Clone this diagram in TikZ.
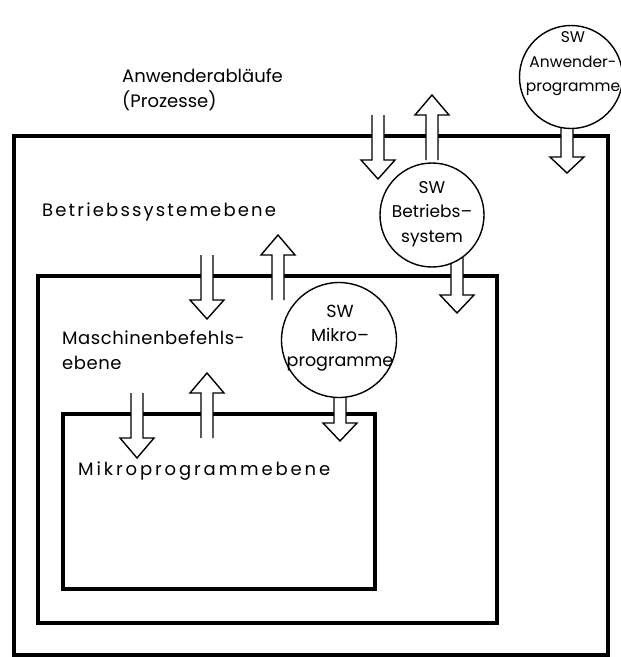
\documentclass[tikz,border=0pt]{standalone}
\usepackage{fontspec}
\setmainfont{Poppins}
\usepackage{tikz}
\usetikzlibrary{calc}

\begin{document}
\begin{tikzpicture}[x=1pt,y=-1pt,
    ebene/.style={draw,line width=3.2pt},
    blockpfeil/.style={draw,fill=white,line width=1.4pt,line join=miter},
    swkreis/.style={circle,draw,fill=white,line width=1.4pt,inner sep=0pt},
    swtext/.style={align=center,inner sep=0pt,font=\fontsize{#1}{24.5}\selectfont},
    swtext/.default=17,
    beschriftung/.style={anchor=west,align=left,inner sep=0pt,
      font=\fontsize{18}{25}\selectfont\addfontfeature{LetterSpace=#1}},
    beschriftung/.default=0]
    \useasboundingbox (0,0) rectangle (621,657);

    % Masse der Blockpfeile (halbe Breiten)
    \newcommand{\schaft}{6}
    \newcommand{\spitze}{17}

    % Pfeil nach unten: Anfang oben, Schaftlaenge, Spitzenlaenge
    \newcommand{\pfeilRunter}[3]{%
      \path[blockpfeil] (#1) ++(-\schaft,0) -- ++(0,#2) -- ++(\schaft-\spitze,0)
        -- ++(\spitze,#3) -- ++(\spitze,-#3) -- ++(\schaft-\spitze,0) -- ++(0,-#2);
    }
    % Pfeil nach oben: Anfang unten, Schaftlaenge, Spitzenlaenge
    \newcommand{\pfeilHoch}[3]{%
      \path[blockpfeil] (#1) ++(-\schaft,0) -- ++(0,-#2) -- ++(\schaft-\spitze,0)
        -- ++(\spitze,-#3) -- ++(\spitze,#3) -- ++(\schaft-\spitze,0) -- ++(0,#2);
    }

    % Die drei Ebenen
    \draw[ebene] (14,136) rectangle (608,655);
    \draw[ebene] (38,276) rectangle (497,623);
    \draw[ebene] (63,414) rectangle (375,589);

    % Mittelpunkte der SW-Kreise
    \coordinate (anwMitte) at (571,77);
    \coordinate (bsMitte) at (432,215);
    \coordinate (mikroMitte) at (339,340);

    % Pfeile durch die Ebenengrenzen
    \coordinate (prozRunter) at (378,115);
    \coordinate (prozHoch) at (432,160);
    \coordinate (bsRunter) at (207,255);
    \coordinate (bsHoch) at (278,300);
    \coordinate (mbRunter) at (137,393);
    \coordinate (mbHoch) at (207,438);

    \pfeilRunter{prozRunter}{45}{19}
    \pfeilHoch{prozHoch}{45}{20}
    \pfeilRunter{bsRunter}{45}{19}
    \pfeilHoch{bsHoch}{45}{20}
    \pfeilRunter{mbRunter}{45}{20}
    \pfeilHoch{mbHoch}{45}{20}

    % Pfeile aus den Kreisen
    \pfeilRunter{$(anwMitte)+(-4,40)$}{40}{16}
    \pfeilRunter{$(bsMitte)+(25,35)$}{45}{18}
    \pfeilRunter{$(mikroMitte)+(1,45)$}{38}{18}

    % SW-Kreise
    \node[swkreis,minimum size=103pt] (swAnw) at (anwMitte) {};
    \node[swkreis,minimum size=104pt] (swBs) at (bsMitte) {};
    \node[swkreis,minimum size=115pt] (swMikro) at (mikroMitte) {};
    \node[swtext=15.5] (swAnwText) at ($(anwMitte)+(2,-13)$) {SW\\Anwender-\\programme};
    \node[swtext] (swBsText) at ($(bsMitte)+(0,-1)$) {SW\\Betriebs–\\system};
    \node[swtext=17.5] (swMikroText) at ($(mikroMitte)+(1,-2)$) {SW\\Mikro–\\programme};

    % Ebenenbeschriftungen
    \node[beschriftung] (prozesse) at (122,90) {Anwenderabläufe\\(Prozesse)};
    \node[beschriftung=12] (bsEbene) at (42,212) {Betriebssystemebene};
    \node[beschriftung=3] (mbEbene) at (62,350) {Maschinenbefehls-\\ebene};
    \node[beschriftung=16] (mikroEbene) at (78,471) {Mikroprogrammebene};
\end{tikzpicture}
\end{document}
